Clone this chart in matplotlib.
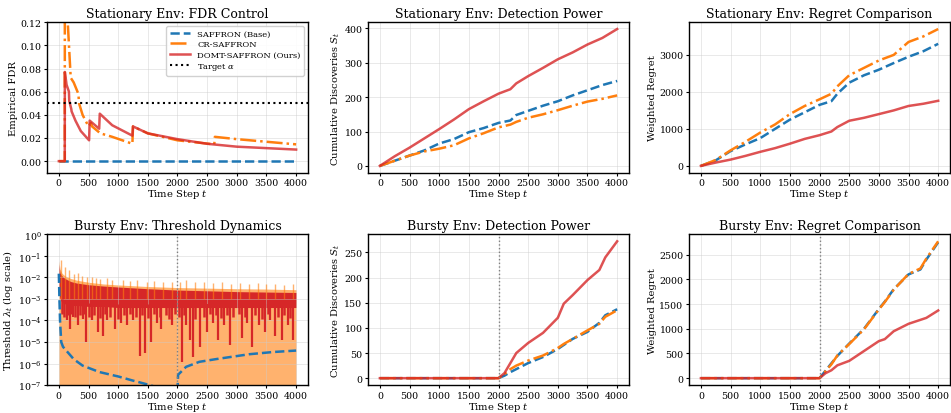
import numpy as np
import matplotlib
matplotlib.use("Agg")
import matplotlib.pyplot as plt
from matplotlib.ticker import NullLocator

plt.rcParams['font.family'] = 'DejaVu Serif'
plt.rcParams['mathtext.fontset'] = 'dejavuserif'

C_BASE = '#1f77b4'
C_CR = '#ff7f0e'
C_OURS = '#d62728'

# ---- Stationary: FDR control (step-like curves)
fdr_t = [0, 4000]
fdr_base = [0.0, 0.0]
fdr_cr_t = [0, 100, 101, 150, 200, 250, 330, 340, 400, 500, 540, 560, 700, 900, 1240, 1250, 1500, 2000, 2620, 2630, 3000, 4000]
fdr_cr = [0.0, 0.0, 0.16, 0.12, 0.072, 0.068, 0.058, 0.05, 0.04, 0.03, 0.033, 0.03, 0.024, 0.021, 0.015, 0.030, 0.024, 0.018, 0.0145, 0.021, 0.019, 0.0145]
fdr_ours_t = [0, 100, 101, 120, 130, 170, 175, 210, 215, 280, 370, 510, 520, 680, 690, 900, 1240, 1250, 1500, 2000, 2500, 3000, 4000]
fdr_ours = [0.0, 0.0, 0.077, 0.07, 0.066, 0.06, 0.052, 0.045, 0.043, 0.035, 0.026, 0.018, 0.035, 0.028, 0.041, 0.031, 0.022, 0.030, 0.024, 0.019, 0.015, 0.0125, 0.010]
target_alpha = 0.05

# ---- Stationary: detection power
t_knots = [0, 250, 500, 750, 1000, 1250, 1500, 1750, 2000, 2200, 2300, 2500, 2750, 3000, 3250, 3500, 3750, 4000]
st_pow_base = [0, 15, 30, 45, 65, 78, 98, 110, 125, 132, 148, 160, 175, 188, 205, 220, 235, 247]
st_pow_cr = [0, 15, 30, 42, 50, 60, 80, 95, 112, 120, 128, 140, 150, 162, 175, 187, 195, 205]
st_pow_ours = [0, 28, 53, 80, 107, 135, 165, 188, 210, 223, 240, 261, 285, 310, 330, 353, 372, 398]

# ---- Stationary: regret
st_reg_base = [0, 150, 400, 580, 750, 1000, 1250, 1450, 1650, 1750, 1950, 2250, 2450, 2600, 2780, 2950, 3100, 3300]
st_reg_cr = [0, 160, 420, 650, 900, 1120, 1400, 1620, 1800, 1950, 2150, 2450, 2650, 2850, 3000, 3350, 3500, 3700]
st_reg_ours = [0, 90, 170, 270, 380, 480, 600, 730, 830, 930, 1050, 1220, 1300, 1400, 1500, 1620, 1680, 1760]

# ---- Bursty: threshold dynamics (envelopes + dips/peaks)
thr_t = [0, 20, 50, 100, 200, 300, 500, 750, 1000, 1500, 2000, 2500, 3000, 3500, 4000]
thr_cr_top = [6e-2, 2.5e-2, 1.6e-2, 1.2e-2, 9e-3, 7.5e-3, 6e-3, 5e-3, 4.5e-3, 3.8e-3, 3.4e-3, 3.2e-3, 3e-3, 2.9e-3, 2.7e-3]
thr_ours_top = [4e-2, 1.6e-2, 1.2e-2, 9e-3, 6.5e-3, 5.5e-3, 4.6e-3, 4e-3, 3.6e-3, 3e-3, 2.6e-3, 2.4e-3, 2.2e-3, 2.1e-3, 2.0e-3]
thr_ours_low = [2e-3, 1e-3, 7e-4, 6e-4, 5e-4, 5e-4, 4.5e-4, 4.5e-4, 4e-4, 4e-4, 4e-4, 4e-4, 4e-4, 4e-4, 4e-4]
dip_t = [130, 185, 240, 325, 400, 465, 560, 660, 745, 820, 940, 1050, 1150, 1250, 1365, 1450, 1560, 1650, 1730, 1900,
         2070, 2150, 2210, 2265, 2380, 2490, 2600, 2690, 2790, 2885, 3080, 3180, 3250, 3380, 3475, 3560, 3645, 3760, 3860, 3955]
dip_v = [1e-4, 4e-5, 1.5e-4, 6e-5, 1.2e-4, 1e-5, 1e-4, 3e-5, 2e-5, 1e-4, 4e-5, 8e-5, 6e-5, 1e-4, 2.3e-6, 3e-6, 1e-5, 8e-5, 4e-5, 6e-5,
         1.2e-6, 6e-5, 1.3e-5, 2e-6, 6e-6, 3e-5, 8e-5, 1.3e-5, 6e-5, 7e-6, 1.6e-5, 8e-5, 6e-6, 6e-5, 3e-5, 1e-4, 2e-5, 1.3e-5, 6e-5, 1.3e-5]
mdip_t = [60, 90, 160, 210, 280, 350, 430, 500, 600, 700, 780, 870, 990, 1100, 1200, 1300, 1400, 1500, 1600, 1700, 1800, 1850, 1950,
          2030, 2110, 2300, 2440, 2550, 2650, 2740, 2840, 2940, 3030, 3130, 3300, 3430, 3520, 3700, 3800, 3900]
mdip_v = [2e-4, 1.5e-4, 1.8e-4, 2e-4, 1.5e-4, 1.8e-4, 2e-4, 1.5e-4, 1.8e-4, 1.3e-4, 2e-4, 1.5e-4, 1.2e-4, 1.8e-4, 2e-4, 1.5e-4, 1.8e-4, 1.3e-4, 2e-4,
          1.5e-4, 1.8e-4, 1.2e-4, 2e-4, 1.5e-4, 1.8e-4, 1.2e-4, 1.5e-4, 2e-4, 1.8e-4, 1.3e-4, 1.8e-4, 1.5e-4, 2e-4, 1.5e-4, 1.8e-4, 1.2e-4, 2e-4, 1.5e-4, 1.8e-4, 1.3e-4]
peak_t = [40, 110, 170, 260, 330, 390, 470, 560, 620, 700, 820, 900, 1080, 1200, 1320, 1480, 1600, 1750, 1900, 2050, 2150,
          2300, 2450, 2600, 2750, 2900, 3050, 3200, 3350, 3500, 3650, 3800, 3950]
peak_v = [6.5e-2, 3e-2, 2.2e-2, 1.5e-2, 1.6e-2, 1.2e-2, 1.1e-2, 1e-2, 9e-3, 8.5e-3, 9e-3, 8e-3, 8e-3, 7e-3, 7.5e-3, 6.5e-3, 7e-3,
          6e-3, 6.5e-3, 6e-3, 7.5e-3, 6e-3, 6e-3, 5.5e-3, 6e-3, 5e-3, 5.5e-3, 5e-3, 5.5e-3, 5e-3, 5e-3, 4.5e-3, 5e-3]
thr_base_t = [0, 10, 20, 40, 70, 125, 250, 400, 685, 1000, 1250, 1530, 1700, 1999, 2000, 2010, 2145, 2370, 2650, 3210, 3600, 4000]
thr_base = [1.5e-2, 1e-3, 1e-4, 1e-5, 6e-6, 4e-6, 1.6e-6, 8e-7, 4e-7, 2.5e-7, 1.6e-7, 1e-7, 7e-8, 5e-8, 5e-8, 3e-7, 7e-7, 1.2e-6, 1.6e-6, 2.7e-6, 3.4e-6, 4e-6]

# ---- Bursty: detection power and regret
b_t = [0, 2000, 2100, 2200, 2300, 2500, 2750, 3000, 3100, 3250, 3500, 3700, 3800, 4000]
b_pow_base = [0, 0, 5, 12, 18, 30, 42, 58, 66, 78, 92, 110, 125, 137]
b_pow_cr = [0, 0, 8, 18, 25, 35, 45, 60, 68, 78, 95, 108, 122, 135]
b_pow_ours = [0, 0, 10, 30, 50, 70, 90, 120, 148, 165, 195, 215, 240, 272]
b_reg_base = [0, 0, 150, 300, 450, 700, 1000, 1400, 1550, 1800, 2100, 2200, 2400, 2750]
b_reg_cr = [0, 0, 140, 280, 460, 690, 990, 1390, 1540, 1790, 2110, 2220, 2420, 2770]
b_reg_ours = [0, 0, 100, 160, 260, 350, 550, 750, 790, 950, 1100, 1180, 1220, 1370]

fig, axes = plt.subplots(2, 3, figsize=(9.51, 4.14), dpi=100)
fig.subplots_adjust(left=0.0494, right=0.999, top=0.944, bottom=0.0676, wspace=0.23, hspace=0.41)

lw = 1.8
ts = 9
ls_ = 7.2
tk = 6.8

def style(ax, title, ylabel):
    ax.set_title(title, fontsize=ts, pad=4)
    ax.set_xlabel('Time Step $t$', fontsize=ls_, labelpad=0)
    ax.set_ylabel(ylabel, fontsize=ls_, labelpad=2)
    ax.tick_params(labelsize=tk, length=2.5, pad=1.5)
    ax.grid(True, color='#cccccc', alpha=0.5, linewidth=0.6)
    ax.set_xticks(np.arange(0, 4001, 500))
    for s in ax.spines.values():
        s.set_linewidth(1.0)

# panel 1
ax = axes[0, 0]
ax.plot(fdr_t, fdr_base, '--', color=C_BASE, lw=lw, label='SAFFRON (Base)')
ax.plot(fdr_cr_t, fdr_cr, '-.', color=C_CR, lw=lw, label='CR-SAFFRON')
ax.plot(fdr_ours_t, fdr_ours, '-', color=C_OURS, lw=lw, alpha=0.8, label='DOMT-SAFFRON (Ours)')
ax.axhline(target_alpha, color='black', ls=':', lw=1.5, label=r'Target $\alpha$')
ax.set_ylim(-0.01, 0.12)
ax.set_yticks(np.arange(0, 0.121, 0.02))
style(ax, 'Stationary Env: FDR Control', 'Empirical FDR')
ax.legend(loc='upper right', fontsize=6, framealpha=0.9, borderpad=0.4, labelspacing=0.3, handlelength=2.5)

# panel 2
ax = axes[0, 1]
ax.plot(t_knots, st_pow_base, '--', color=C_BASE, lw=lw)
ax.plot(t_knots, st_pow_cr, '-.', color=C_CR, lw=lw)
ax.plot(t_knots, st_pow_ours, '-', color=C_OURS, lw=lw, alpha=0.8)
style(ax, 'Stationary Env: Detection Power', 'Cumulative Discoveries $S_t$')

# panel 3
ax = axes[0, 2]
ax.plot(t_knots, st_reg_base, '--', color=C_BASE, lw=lw)
ax.plot(t_knots, st_reg_cr, '-.', color=C_CR, lw=lw)
ax.plot(t_knots, st_reg_ours, '-', color=C_OURS, lw=lw, alpha=0.8)
ax.set_yticks([0, 1000, 2000, 3000])
style(ax, 'Stationary Env: Regret Comparison', 'Weighted Regret')

# panel 4
ax = axes[1, 0]
ax.set_yscale('log')
ax.fill_between(thr_t, 1e-9, thr_cr_top, color=C_CR, alpha=0.6, lw=0)
ax.vlines(peak_t, 1e-3, peak_v, color=C_CR, alpha=0.6, lw=1.0)
ax.fill_between(thr_t, thr_ours_low, thr_ours_top, color=C_OURS, lw=0)
ax.vlines(mdip_t, mdip_v, np.interp(mdip_t, thr_t, thr_ours_low) * 1.5, color=C_OURS, lw=1.8)
ax.vlines(dip_t, dip_v, np.interp(dip_t, thr_t, thr_ours_low) * 1.5, color=C_OURS, lw=1.6)
ax.plot(thr_base_t, thr_base, '--', color=C_BASE, lw=lw)
ax.axvline(2000, color='gray', ls=':', lw=1)
ax.set_ylim(1e-7, 1e0)
ax.set_yticks([10.0 ** k for k in range(-7, 1)])
ax.yaxis.set_minor_locator(NullLocator())
style(ax, 'Bursty Env: Threshold Dynamics', r'Threshold $\lambda_t$ (log scale)')
ax.set_xlim(-200, 4200)

# panel 5
ax = axes[1, 1]
ax.plot(b_t, b_pow_base, '--', color=C_BASE, lw=lw)
ax.plot(b_t, b_pow_cr, '-.', color=C_CR, lw=lw)
ax.plot(b_t, b_pow_ours, '-', color=C_OURS, lw=lw, alpha=0.8)
ax.axvline(2000, color='gray', ls=':', lw=1)
style(ax, 'Bursty Env: Detection Power', 'Cumulative Discoveries $S_t$')

# panel 6
ax = axes[1, 2]
ax.plot(b_t, b_reg_base, '--', color=C_BASE, lw=lw)
ax.plot(b_t, b_reg_cr, '-.', color=C_CR, lw=lw)
ax.plot(b_t, b_reg_ours, '-', color=C_OURS, lw=lw, alpha=0.8)
ax.axvline(2000, color='gray', ls=':', lw=1)
style(ax, 'Bursty Env: Regret Comparison', 'Weighted Regret')

fig.savefig('out.png', dpi=100)
